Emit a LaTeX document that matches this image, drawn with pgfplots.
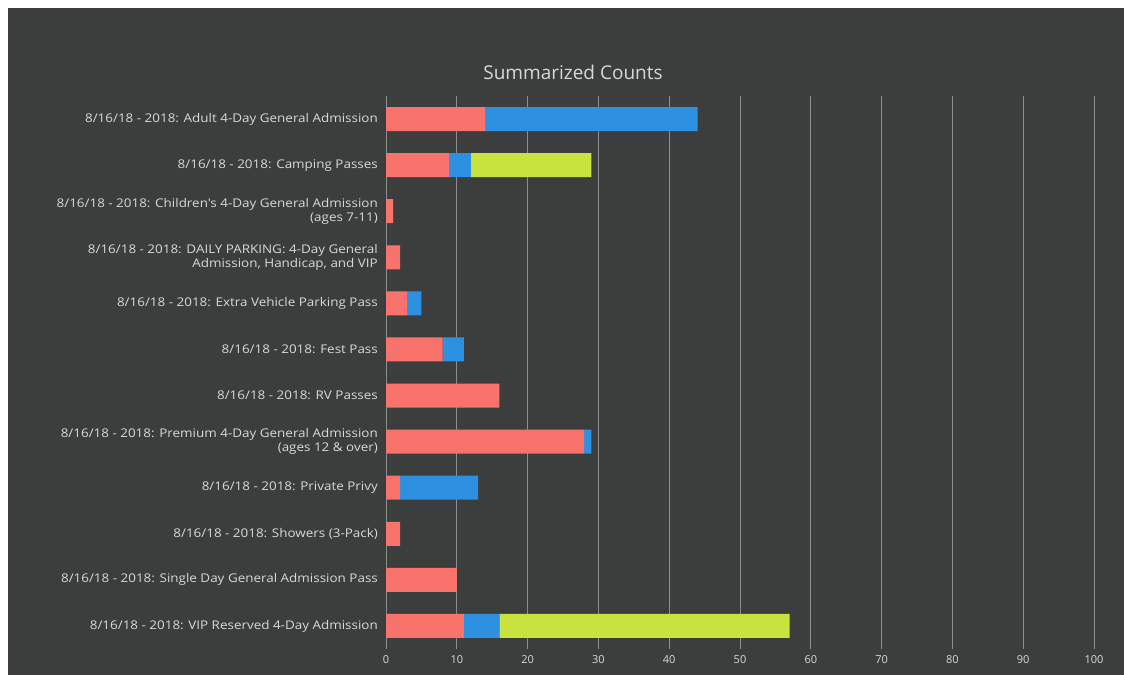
\documentclass[border=0pt]{standalone}
\usepackage{pgfplots}
\pgfplotsset{compat=1.18}
\usepackage{pgfplotstable}
\usepackage{fontspec}
\setmainfont{Open Sans}
\newfontfamily\labfont[FakeStretch=1.12]{Open Sans}
\definecolor{bg}{HTML}{3C3E3E}
\definecolor{cred}{HTML}{F7736C}
\definecolor{cblue}{HTML}{2E90E0}
\definecolor{cgreen}{HTML}{C8E23E}
\definecolor{txt}{HTML}{D8D8D8}
\definecolor{gridc}{HTML}{8C8E8E}

\pgfplotstableread{
idx red blue green
0 14 30 0
1 9 3 17
2 1 0 0
3 2 0 0
4 3 2 0
5 8 3 0
6 16 0 0
7 28 1 0
8 2 11 0
9 2 0 0
10 10 0 0
11 11 5 41
}\datatable

\begin{document}
\begin{tikzpicture}[x=1bp,y=1bp]
\useasboundingbox (0,0) rectangle (1124,675);
\fill[white] (0,0) rectangle (1124,675);
\fill[bg] (8,0) rectangle (1124,667);
\node[text=txt, font=\fontsize{19bp}{22bp}\selectfont] at (573,603) {Summarized Counts};
\begin{axis}[
  at={(386bp,26bp)}, anchor=south west,
  scale only axis,
  width=708bp, height=553bp,
  xbar stacked,
  bar width=24bp,
  xmin=0, xmax=100,
  ymin=-0.5, ymax=11.5,
  y dir=reverse,
  xtick={0,10,...,100},
  ytick={0,...,11},
  yticklabels={
    {8/16/18 - 2018: Adult 4-Day General Admission},
    {8/16/18 - 2018: Camping Passes},
    {8/16/18 - 2018: Children's 4-Day General Admission\\(ages 7-11)},
    {8/16/18 - 2018: DAILY PARKING: 4-Day General\\Admission, Handicap, and VIP},
    {8/16/18 - 2018: Extra Vehicle Parking Pass},
    {8/16/18 - 2018: Fest Pass},
    {8/16/18 - 2018: RV Passes},
    {8/16/18 - 2018: Premium 4-Day General Admission\\(ages 12 \& over)},
    {8/16/18 - 2018: Private Privy},
    {8/16/18 - 2018: Showers (3-Pack)},
    {8/16/18 - 2018: Single Day General Admission Pass},
    {8/16/18 - 2018: VIP Reserved 4-Day Admission}
  },
  yticklabel style={align=right, inner sep=0pt, text=txt, font=\labfont\fontsize{12bp}{14bp}\selectfont},
  yticklabel shift=8bp,
  xticklabel style={inner sep=0pt, text=txt, font=\fontsize{11bp}{12bp}\selectfont},
  xticklabel shift=6bp,
  /pgf/number format/assume math mode=true,
  xmajorgrids,
  major grid style={draw=gridc, line width=0.7pt},
  axis line style={draw=none},
  tick style={draw=none},
]
\addplot[fill=cred, draw=none] table[x=red, y=idx] {\datatable};
\addplot[fill=cblue, draw=none] table[x=blue, y=idx] {\datatable};
\addplot[fill=cgreen, draw=none] table[x=green, y=idx] {\datatable};
\end{axis}
\end{tikzpicture}
\end{document}
